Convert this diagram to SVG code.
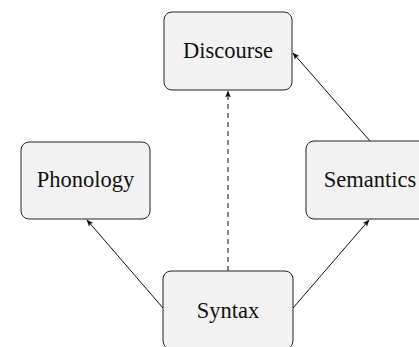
<svg xmlns="http://www.w3.org/2000/svg" width="419" height="347" viewBox="0 0 419 347">
<style>
.box{fill:#f2f2f2;stroke:#222;stroke-width:1}
.lbl{font-family:"Liberation Serif","DejaVu Serif",serif;font-size:22.5px;fill:#111;text-anchor:middle}
.edge{stroke:#111;stroke-width:1;fill:none}
.dash{stroke-dasharray:5,4}
</style>
<defs>
<marker id="ah" viewBox="0 0 10 10" refX="9" refY="5" markerWidth="7" markerHeight="7" markerUnits="userSpaceOnUse" orient="auto">
<path d="M0,1 L10,5 L0,9 L2,5 Z" fill="#111"/>
</marker>
</defs>
<g id="connectors">
<line class="edge dash" x1="228" y1="271" x2="228" y2="91" marker-end="url(#ah)"/>
<line class="edge" x1="163" y1="308" x2="87" y2="220" marker-end="url(#ah)"/>
<line class="edge" x1="293" y1="308" x2="369" y2="220" marker-end="url(#ah)"/>
<line class="edge" x1="370" y1="141" x2="293" y2="53" marker-end="url(#ah)"/>
</g>
<g id="discourse">
<rect class="box" x="164" y="12" width="128" height="78" rx="8"/>
<text class="lbl" x="228" y="58">Discourse</text>
</g>
<g id="phonology">
<rect class="box" x="21" y="142" width="129" height="77" rx="8"/>
<text class="lbl" x="85.5" y="187">Phonology</text>
</g>
<g id="semantics">
<rect class="box" x="306" y="141" width="128" height="78" rx="8"/>
<text class="lbl" x="370" y="187">Semantics</text>
</g>
<g id="syntax">
<rect class="box" x="163" y="271" width="130" height="78" rx="8"/>
<text class="lbl" x="228" y="317.5">Syntax</text>
</g>
</svg>
